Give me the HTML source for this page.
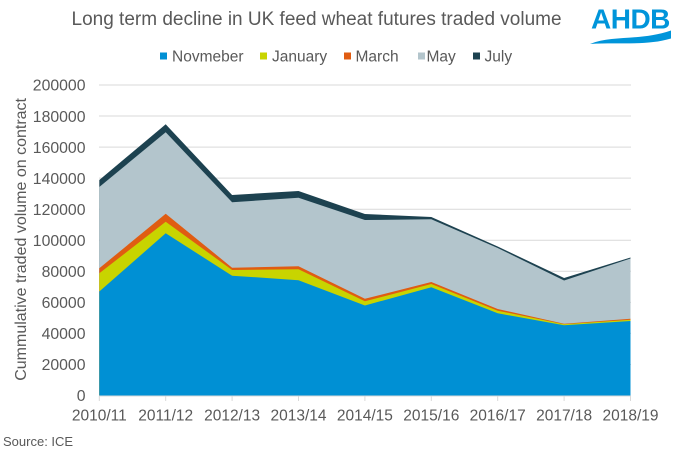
<!DOCTYPE html>
<html>
<head>
<meta charset="utf-8">
<style>
html,body{margin:0;padding:0;background:#fff;}
svg{display:block;}
text{font-family:"Liberation Sans",Arial,sans-serif;fill:#595959;}
</style>
</head>
<body>
<svg width="679" height="454" viewBox="0 0 679 454" xmlns="http://www.w3.org/2000/svg">
<rect x="0" y="0" width="679" height="454" fill="#fff"/>
<!-- Title -->
<text x="71.5" y="25" font-size="19">Long term decline in UK feed wheat futures traded volume</text>
<!-- Logo -->
<text x="591" y="28.3" font-size="28" font-weight="bold" letter-spacing="-0.5" style="fill:#0095DA">AHDB</text>
<path d="M590,44 C612,35 640,41 671,30.5 L671,38.5 C646,46 618,42 590,44 Z" fill="#0095DA"/>
<!-- Legend -->
<g font-size="15.5">
<rect x="160" y="52.5" width="7" height="7" fill="#0090D4"/>
<text x="172" y="61.5">Novmeber</text>
<rect x="260" y="52.5" width="7" height="7" fill="#C8D400"/>
<text x="272" y="61.5">January</text>
<rect x="344" y="52.5" width="7" height="7" fill="#E05C12"/>
<text x="355.5" y="61.5">March</text>
<rect x="418" y="52.5" width="7" height="7" fill="#B3C5CC"/>
<text x="426.5" y="61.5">May</text>
<rect x="473" y="52.5" width="7" height="7" fill="#1D4250"/>
<text x="484.5" y="61.5">July</text>
</g>
<!-- Gridlines -->
<g stroke="#D9D9D9" stroke-width="1">
<line x1="99" x2="631" y1="364.45" y2="364.45"/>
<line x1="99" x2="631" y1="333.4" y2="333.4"/>
<line x1="99" x2="631" y1="302.35" y2="302.35"/>
<line x1="99" x2="631" y1="271.3" y2="271.3"/>
<line x1="99" x2="631" y1="240.25" y2="240.25"/>
<line x1="99" x2="631" y1="209.2" y2="209.2"/>
<line x1="99" x2="631" y1="178.15" y2="178.15"/>
<line x1="99" x2="631" y1="147.1" y2="147.1"/>
<line x1="99" x2="631" y1="116.05" y2="116.05"/>
<line x1="99" x2="631" y1="85" y2="85"/>
</g>
<!-- Areas (cumulative, drawn back to front) -->
<polygon fill="#1D4250" points="99.3,395.5 99.3,180 165.7,124.3 232.1,195 298.5,191 364.9,214 431.3,217 497.7,246.5 564.1,278 630.5,257.5 630.5,395.5"/>
<polygon fill="#B3C5CC" points="99.3,395.5 99.3,187 165.7,132.3 232.1,202.3 298.5,197.7 364.9,220 431.3,219.3 497.7,248 564.1,280.5 630.5,258.5 630.5,395.5"/>
<polygon fill="#E05C12" points="99.3,395.5 99.3,268.3 165.7,213.7 232.1,267.7 298.5,266.3 364.9,298.8 431.3,282 497.7,309 564.1,323.7 630.5,318.7 630.5,395.5"/>
<polygon fill="#C8D400" points="99.3,395.5 99.3,273.3 165.7,221.7 232.1,270 298.5,269.3 364.9,301.3 431.3,284 497.7,310.7 564.1,324.3 630.5,319.7 630.5,395.5"/>
<polygon fill="#0090D4" points="99.3,395.5 99.3,291.5 165.7,233.3 232.1,275.7 298.5,280.2 364.9,305.5 431.3,287.2 497.7,313.3 564.1,325.3 630.5,321 630.5,395.5"/>
<!-- X axis -->
<g stroke="#D9D9D9" stroke-width="1">
<line x1="99" x2="631" y1="396" y2="396"/>
<line x1="99.3" x2="99.3" y1="396" y2="401"/>
<line x1="165.7" x2="165.7" y1="396" y2="401"/>
<line x1="232.1" x2="232.1" y1="396" y2="401"/>
<line x1="298.5" x2="298.5" y1="396" y2="401"/>
<line x1="364.9" x2="364.9" y1="396" y2="401"/>
<line x1="431.3" x2="431.3" y1="396" y2="401"/>
<line x1="497.7" x2="497.7" y1="396" y2="401"/>
<line x1="564.1" x2="564.1" y1="396" y2="401"/>
<line x1="630.5" x2="630.5" y1="396" y2="401"/>
</g>
<!-- Y tick labels -->
<g font-size="15.8" text-anchor="end">
<text x="85.5" y="401.2">0</text>
<text x="85.5" y="370.15">20000</text>
<text x="85.5" y="339.1">40000</text>
<text x="85.5" y="308.05">60000</text>
<text x="85.5" y="277">80000</text>
<text x="85.5" y="245.95">100000</text>
<text x="85.5" y="214.9">120000</text>
<text x="85.5" y="183.85">140000</text>
<text x="85.5" y="152.8">160000</text>
<text x="85.5" y="121.75">180000</text>
<text x="85.5" y="90.7">200000</text>
</g>
<!-- X labels -->
<g font-size="15.5" text-anchor="middle">
<text x="99.3" y="420.5">2010/11</text>
<text x="165.7" y="420.5">2011/12</text>
<text x="232.1" y="420.5">2012/13</text>
<text x="298.5" y="420.5">2013/14</text>
<text x="364.9" y="420.5">2014/15</text>
<text x="431.3" y="420.5">2015/16</text>
<text x="497.7" y="420.5">2016/17</text>
<text x="564.1" y="420.5">2017/18</text>
<text x="630.5" y="420.5">2018/19</text>
</g>
<!-- Y axis title -->
<text transform="translate(26,239.4) rotate(-90)" font-size="16" text-anchor="middle">Cummulative traded volume on contract</text>
<!-- Source -->
<text x="3" y="446" font-size="13">Source: ICE</text>
</svg>
</body>
</html>
